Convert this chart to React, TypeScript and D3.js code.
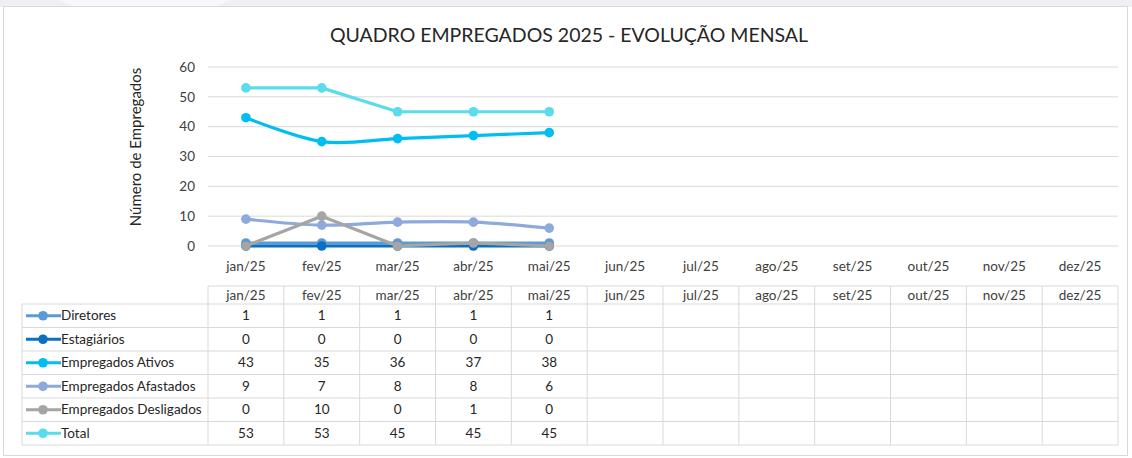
import React from "react";
import { scaleBand, scaleLinear, line, curveLinear, curveCatmullRom } from "d3";

const months = ["jan/25", "fev/25", "mar/25", "abr/25", "mai/25", "jun/25", "jul/25", "ago/25", "set/25", "out/25", "nov/25", "dez/25"];
const seriesNames = ["Diretores", "Estagiários", "Empregados Ativos", "Empregados Afastados", "Empregados Desligados", "Total"];
const diretores = [1, 1, 1, 1, 1];
const estagiarios = [0, 0, 0, 0, 0];
const ativos = [43, 35, 36, 37, 38];
const afastados = [9, 7, 8, 8, 6];
const desligados = [0, 10, 0, 1, 0];
const total = [53, 53, 45, 45, 45];
const seriesColors = ["#5b9bd5", "#0b6fc2", "#00bdf2", "#8eaadc", "#a5a5a5", "#5adcec"];
const smoothed = [false, false, true, true, false, false];
const yTicks = [0, 10, 20, 30, 40, 50, 60];

const W = 1132, H = 458;
const FONT = "Lato, 'Open Sans', sans-serif";

const App = () => {
  const values = [diretores, estagiarios, ativos, afastados, desligados, total];
  const x = scaleBand<string>().domain(months).range([208, 1118]);
  const y = scaleLinear().domain([0, 60]).range([246, 67]);
  const cx = (i: number) => (x(months[i]) as number) + x.bandwidth() / 2;

  const tableTop = 286;
  const headH = 18;
  const rowH = 23.5;
  const legendLeft = 22;
  const gridColor = "#d9d9d9";

  return (
    <svg width={W} height={H} style={{ position: "absolute", left: 0, top: 0, background: "#fff" }}>
      <rect x={0} y={0} width={W} height={7} fill="#eef0f6" />
      <polygon points="60,0 230,0 215,7 75,7" fill="#f7f8fb" />
      <rect x={3.5} y={6.5} width={1124} height={449} fill="#fff" stroke="#d9d9d9" />

      <text x={569} y={42} textAnchor="middle" fontFamily={FONT} fontSize={19.5} fill="#262626">
        QUADRO EMPREGADOS 2025 - EVOLUÇÃO MENSAL
      </text>

      {yTicks.map((t) => (
        <g key={t}>
          <line x1={208} x2={1118} y1={y(t)} y2={y(t)} stroke={gridColor} strokeWidth={1} />
          <text x={195} y={y(t)} dy="0.35em" textAnchor="end" fontFamily={FONT} fontSize={13.5} fill="#404040">
            {t}
          </text>
        </g>
      ))}

      <text
        transform={`translate(141,147) rotate(-90)`}
        textAnchor="middle"
        fontFamily={FONT}
        fontSize={15}
        fill="#262626"
      >
        Número de Empregados
      </text>

      {months.map((m, i) => (
        <text key={m} x={cx(i)} y={271} textAnchor="middle" fontFamily={FONT} fontSize={13.5} fill="#404040">
          {m}
        </text>
      ))}

      {values.map((vals, s) => {
        const gen = line<number>()
          .x((_, i) => cx(i))
          .y((d) => y(d))
          .curve(smoothed[s] ? curveCatmullRom.alpha(0) : curveLinear);
        return (
          <g key={seriesNames[s]}>
            <path d={gen(vals) || ""} fill="none" stroke={seriesColors[s]} strokeWidth={3.2} strokeLinejoin="round" />
            {vals.map((v, i) => (
              <circle key={i} cx={cx(i)} cy={y(v)} r={4.8} fill={seriesColors[s]} />
            ))}
          </g>
        );
      })}

      {/* data table */}
      <g fontFamily={FONT} fontSize={13.5} fill="#262626">
        <line x1={208} x2={1118} y1={tableTop} y2={tableTop} stroke={gridColor} />
        <line x1={legendLeft} x2={1118} y1={tableTop + headH} y2={tableTop + headH} stroke={gridColor} />
        {seriesNames.map((_, r) => (
          <line
            key={r}
            x1={legendLeft}
            x2={1118}
            y1={tableTop + headH + rowH * (r + 1)}
            y2={tableTop + headH + rowH * (r + 1)}
            stroke={gridColor}
          />
        ))}
        <line x1={legendLeft} x2={legendLeft} y1={tableTop + headH} y2={tableTop + headH + rowH * 6} stroke={gridColor} />
        {months.map((m, i) => (
          <line
            key={m}
            x1={x(m) as number}
            x2={x(m) as number}
            y1={tableTop}
            y2={tableTop + headH + rowH * 6}
            stroke={gridColor}
          />
        ))}
        <line x1={1118} x2={1118} y1={tableTop} y2={tableTop + headH + rowH * 6} stroke={gridColor} />

        {months.map((m, i) => (
          <text key={m} x={cx(i)} y={tableTop + headH / 2} dy="0.35em" textAnchor="middle" fill="#404040">
            {m}
          </text>
        ))}

        {seriesNames.map((name, r) => {
          const cy = tableTop + headH + rowH * r + rowH / 2;
          return (
            <g key={name}>
              <line x1={26} x2={61} y1={cy} y2={cy} stroke={seriesColors[r]} strokeWidth={3.2} />
              <circle cx={43} cy={cy} r={4.8} fill={seriesColors[r]} />
              <text x={61} y={cy} dy="0.35em" fill="#262626">
                {name}
              </text>
              {values[r].map((v, i) => (
                <text key={i} x={cx(i)} y={cy} dy="0.35em" textAnchor="middle" fill="#262626">
                  {v}
                </text>
              ))}
            </g>
          );
        })}
      </g>
    </svg>
  );
};

export default App;
